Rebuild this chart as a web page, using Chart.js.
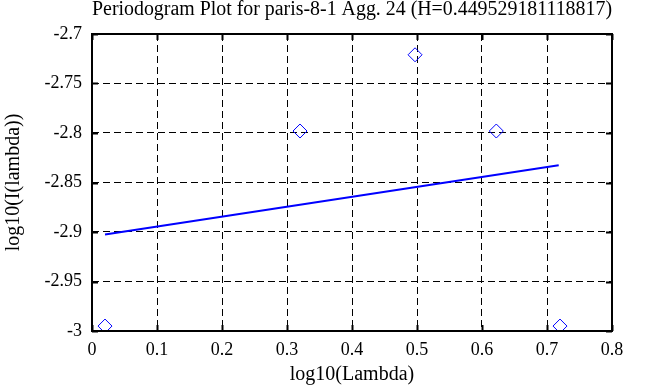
<!DOCTYPE html>
<html>
<head>
<meta charset="utf-8">
<script src="https://cdn.jsdelivr.net/npm/chart.js@4"></script>
<style>
html,body{margin:0;padding:0;background:#fff;}
#wrap{width:657px;height:387px;}
</style>
</head>
<body>
<div id="wrap"><canvas id="c" width="657" height="387"></canvas></div>
<script>
const titleText = "Periodogram Plot for paris-8-1 Agg. 24 (H=0.449529181118817)";
const xLabel = "log10(Lambda)";
const yLabel = "log10(I(lambda))";
const pointX = [0.02, 0.32, 0.497, 0.622, 0.72];
const pointY = [-2.995, -2.798, -2.721, -2.798, -2.995];
const fitX = [0.02, 0.718];
const fitY = [-2.9025, -2.8325];
const xTicks = [0, 0.1, 0.2, 0.3, 0.4, 0.5, 0.6, 0.7, 0.8];
const yTicks = [-3, -2.95, -2.9, -2.85, -2.8, -2.75, -2.7];

const FONT = "'Liberation Serif', 'DejaVu Serif', serif";
const fmt = v => String(parseFloat(Number(v).toFixed(4)));

const frame = {
  id: 'frame',
  afterDatasetsDraw(chart) {
    const a = chart.chartArea, ctx = chart.ctx;
    const xs = chart.scales.x, ys = chart.scales.y;
    ctx.save();
    ctx.strokeStyle = '#000';
    ctx.setLineDash([]);
    ctx.lineWidth = 2;
    const L = 6;
    ctx.beginPath();
    xs.ticks.forEach(t => {
      const px = Math.round(xs.getPixelForValue(t.value)) + 0.5;
      ctx.moveTo(px, a.bottom); ctx.lineTo(px, a.bottom - L);
      ctx.moveTo(px, a.top); ctx.lineTo(px, a.top + L);
    });
    ys.ticks.forEach(t => {
      const py = Math.round(ys.getPixelForValue(t.value)) + 0.5;
      ctx.moveTo(a.left, py); ctx.lineTo(a.left + L, py);
      ctx.moveTo(a.right, py); ctx.lineTo(a.right - L, py);
    });
    ctx.stroke();
    ctx.strokeRect(a.left, a.top, a.right - a.left, a.bottom - a.top);
    ctx.restore();
  }
};

new Chart(document.getElementById('c'), {
  type: 'scatter',
  data: {
    datasets: [
      {
        label: 'points',
        data: pointX.map((x, i) => ({x: x, y: pointY[i]})),
        pointStyle: 'rectRot',
        pointRadius: 7,
        pointBorderColor: '#0000ff',
        pointBackgroundColor: 'rgba(0,0,0,0)',
        pointBorderWidth: 1,
        showLine: false
      },
      {
        label: 'fit',
        data: fitX.map((x, i) => ({x: x, y: fitY[i]})),
        showLine: true,
        borderColor: '#0000ff',
        borderWidth: 2,
        pointRadius: 0,
        fill: false
      }
    ]
  },
  options: {
    responsive: false,
    animation: false,
    layout: {padding: {left: 0, right: 45, top: 0, bottom: 0}},
    plugins: {
      legend: {display: false},
      tooltip: {enabled: false},
      title: {
        display: true,
        fullSize: false,
        text: titleText,
        color: '#000',
        font: {family: FONT, size: 20, weight: 'normal', lineHeight: 1.0},
        padding: {top: 0, bottom: 14}
      }
    },
    scales: {
      x: {
        type: 'linear',
        min: 0, max: 0.8,
        afterBuildTicks: s => { s.ticks = xTicks.map(v => ({value: v})); },
        afterFit: s => { s.height = 56; },
        ticks: {color: '#000', font: {family: FONT, size: 18}, padding: 8, callback: v => fmt(v)},
        grid: {color: '#000', lineWidth: 1, drawTicks: false, tickLength: 0},
        border: {display: false, dash: [7, 4]},
        title: {display: true, text: xLabel, color: '#000', font: {family: FONT, size: 20}, padding: {top: 0, bottom: 0}}
      },
      y: {
        type: 'linear',
        min: -3, max: -2.7,
        afterBuildTicks: s => { s.ticks = yTicks.map(v => ({value: v})); },
        afterFit: s => { s.width = 92; },
        ticks: {color: '#000', font: {family: FONT, size: 18}, padding: 10, callback: v => fmt(v)},
        grid: {color: '#000', lineWidth: 1, drawTicks: false, tickLength: 0},
        border: {display: false, dash: [7, 4]},
        title: {display: true, text: yLabel, color: '#000', font: {family: FONT, size: 20}, padding: {top: 2, bottom: 0}}
      }
    }
  },
  plugins: [frame]
});
</script>
</body>
</html>
